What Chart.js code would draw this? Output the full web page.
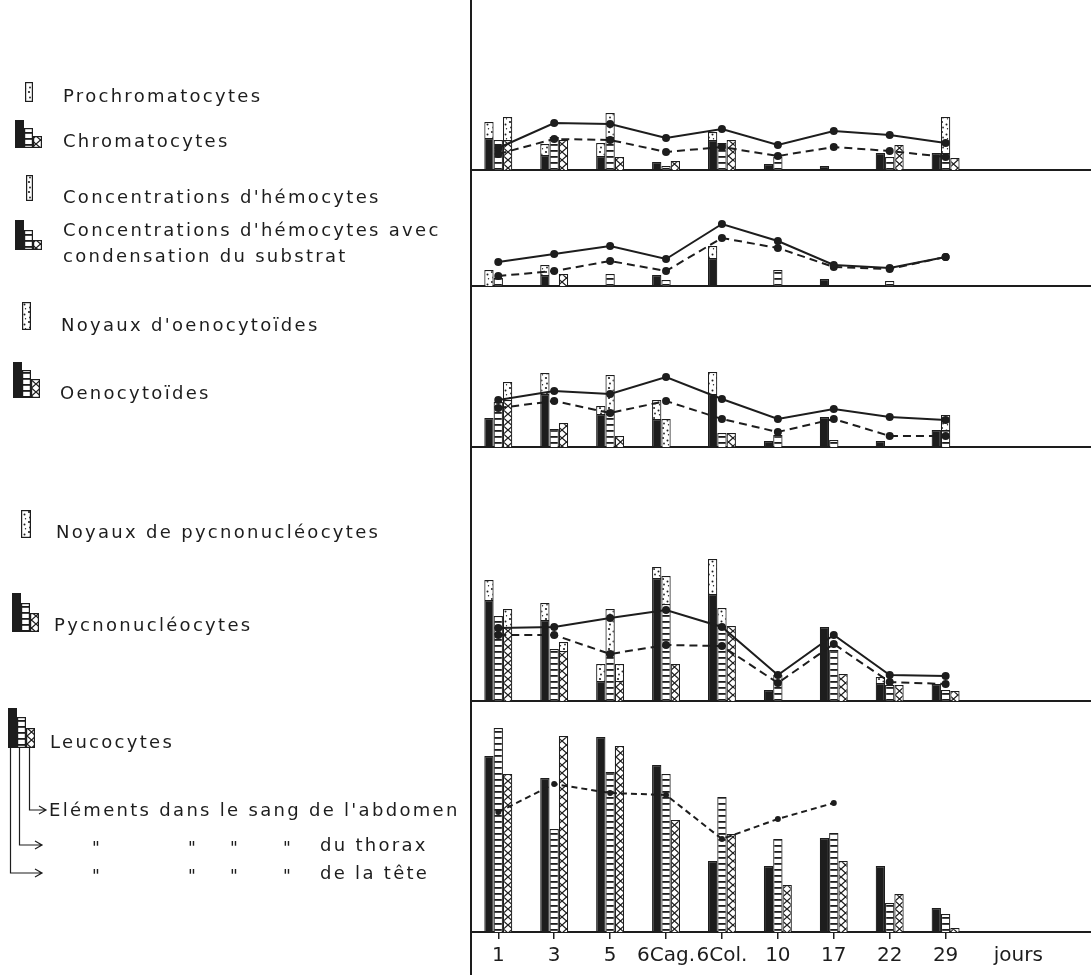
<!DOCTYPE html>
<html lang="fr">
<head>
<meta charset="utf-8">
<title>Hémocytes — évolution au cours du temps</title>
<script src="https://cdn.jsdelivr.net/npm/chart.js@4.4.1/dist/chart.umd.min.js"></script>
<style>
  html, body { margin: 0; padding: 0; background: #fff; }
  body { position: relative; width: 1091px; height: 975px; overflow: hidden;
         font-family: "DejaVu Sans", sans-serif; color: #1d1d1d; }
  #legendArt { position: absolute; left: 0; top: 0; }
  #yRule { position: absolute; left: 470px; top: 0; width: 2px; height: 975px; background: #1d1d1d; }
  .panel { position: absolute; left: 472px; width: 619px; }
  .lg { position: absolute; font-size: 18px; line-height: 20px; letter-spacing: 2.3px;
        white-space: nowrap; }
  .ditto { position: absolute; font-size: 17px; line-height: 20px; }
</style>
</head>
<body>
<canvas id="legendArt" width="460" height="975"></canvas>
<div id="yRule"></div>

<div class="lg" style="left:63px;top:86px">Prochromatocytes</div>
<div class="lg" style="left:63px;top:131px">Chromatocytes</div>
<div class="lg" style="left:63px;top:187px">Concentrations d'hémocytes</div>
<div class="lg" style="left:63px;top:220px">Concentrations d'hémocytes avec</div>
<div class="lg" style="left:63px;top:246px">condensation du substrat</div>
<div class="lg" style="left:61px;top:315px">Noyaux d'oenocytoïdes</div>
<div class="lg" style="left:60px;top:383px">Oenocytoïdes</div>
<div class="lg" style="left:56px;top:522px">Noyaux de pycnonucléocytes</div>
<div class="lg" style="left:54px;top:615px">Pycnonucléocytes</div>
<div class="lg" style="left:50px;top:732px">Leucocytes</div>
<div class="lg" style="left:49px;top:800px">Eléments dans le sang de l'abdomen</div>
<div class="ditto" style="left:92px;top:838px">"</div>
<div class="ditto" style="left:188px;top:838px">"</div>
<div class="ditto" style="left:230px;top:838px">"</div>
<div class="ditto" style="left:283px;top:838px">"</div>
<div class="lg" style="left:320px;top:835px">du thorax</div>
<div class="ditto" style="left:92px;top:866px">"</div>
<div class="ditto" style="left:188px;top:866px">"</div>
<div class="ditto" style="left:230px;top:866px">"</div>
<div class="ditto" style="left:283px;top:866px">"</div>
<div class="lg" style="left:320px;top:863px">de la tête</div>

<script>
const INK = '#1d1d1d';

// ---------- sampling days ----------
const dayLabels = ['1', '3', '5', '6Cag.', '6Col.', '10', '17', '22', '29'];
const unitLabel = 'jours';

// ---------- chromatocytes / prochromatocytes ----------
const chromTete         = [32, 15, 14, 8, 30, 6, 4, 17, 17];
const prochromTete      = [16, 11, 13, null, 8, null, null, null, null];
const chromThorax       = [30, 33, 33, 4, 27, 13, null, 13, 17];
const prochromThorax    = [null, null, 24, null, null, null, null, null, 36];
const chromAbdomen      = [30, 30, 13, 9, 30, null, null, 25, 12];
const prochromAbdomen   = [23, null, null, null, null, null, null, null, null];
const chromSolid        = [22, 47, 46, 32, 41, 25, 39, 35, 27];
const chromDashed       = [16, 31, 30, 18, 23, 14, 23, 19, 13];

// ---------- concentrations d'hémocytes ----------
const condTete          = [null, 11, null, 11, 28, null, 7, null, null];
const concTete          = [16, 10, null, null, 12, null, null, null, null];
const condThorax        = [8, null, 12, 6, null, 16, null, 5, null];
const condAbdomen       = [null, 12, null, null, null, null, null, null, null];
const concSolid         = [24, 32, 40, 27, 62, 45, 21, 18, 29];
const concDashed        = [10, 15, 25, 15, 48, 38, 19, 17, 29];

// ---------- oenocytoïdes / noyaux d'oenocytoïdes ----------
const oenoTete          = [29, 53, 33, 28, 53, 6, 30, 6, 17];
const noyOenoTete       = [null, 21, 8, 19, 22, null, null, null, null];
const oenoThorax        = [45, 18, 33, null, 14, 12, 7, null, 17];
const noyOenoThorax     = [null, null, 39, 28, null, null, null, null, 15];
const oenoAbdomen       = [47, 24, 11, null, 14, null, null, null, null];
const noyOenoAbdomen    = [18, null, null, null, null, null, null, null, null];
const oenoSolid         = [47, 56, 53, 70, 48, 28, 38, 30, 27];
const oenoDashed        = [39, 46, 34, 46, 28, 15, 28, 11, 11];

// ---------- pycnonucléocytes / noyaux de pycnonucléocytes ----------
const pycTete           = [101, 81, 20, 123, 107, 11, 74, 18, 17];
const noyPycTete        = [20, 17, 17, 11, 35, null, null, 6, null];
const pycThorax         = [85, 52, 47, 97, 75, 26, 51, 16, 11];
const noyPycThorax      = [null, null, 45, 28, 18, null, null, null, null];
const pycAbdomen        = [74, 50, 20, 37, 75, null, 27, 16, 10];
const noyPycAbdomen     = [18, 9, 17, null, null, null, null, null, null];
const pycSolid          = [73, 74, 83, 91, 74, 26, 66, 26, 25];
const pycDashed         = [66, 66, 47, 56, 55, 18, 57, 19, 17];

// ---------- leucocytes ----------
const leucoTete         = [176, 154, 195, 167, 71, 66, 94, 66, 24];
const leucoThorax       = [204, 103, 160, 158, 135, 93, 99, 29, 18];
const leucoAbdomen      = [158, 196, 186, 112, 98, 47, 71, 38, 4];
const leucoDashed       = [120, 148, 139, 137, 93, 113, 129, null, null];

// ---------- hatch fills ----------
const art = document.getElementById('legendArt').getContext('2d');

function makeTile(w, h, paint) {
  const c = document.createElement('canvas');
  c.width = w; c.height = h;
  const g = c.getContext('2d');
  g.fillStyle = '#fff'; g.fillRect(0, 0, w, h);
  g.fillStyle = INK; g.strokeStyle = INK;
  paint(g, w, h);
  return c;
}

const fills = {
  black: INK,
  stripes: art.createPattern(makeTile(10, 6, (g, w) => g.fillRect(0, 0, w, 1.8)), 'repeat'),
  chain: art.createPattern(makeTile(9, 8, (g, w, h) => {
    g.lineWidth = 1.3;
    g.beginPath();
    g.moveTo(0, 0); g.lineTo(w, h);
    g.moveTo(w, 0); g.lineTo(0, h);
    g.stroke();
  }), 'repeat'),
  stipple: art.createPattern(makeTile(9, 10, g => {
    [[2, 2, 1.1], [6.5, 4.5, 1], [3, 7.5, 0.9], [7.5, 8.8, 0.7]].forEach(([x, y, r]) => {
      g.beginPath(); g.arc(x, y, r, 0, Math.PI * 2); g.fill();
    });
  }), 'repeat')
};

// ---------- legend symbols ----------
function symbolBar(fill, x, yBottom, w, h) {
  art.fillStyle = fills[fill];
  art.fillRect(x, yBottom - h, w, h);
  art.strokeStyle = INK; art.lineWidth = 1.2;
  art.strokeRect(x + 0.6, yBottom - h + 0.6, w - 1.2, h - 1.2);
}
function symbolTrio(x, yBottom, hs) {
  symbolBar('black', x, yBottom, 9, hs[0]);
  symbolBar('stripes', x + 9, yBottom, 9, hs[1]);
  symbolBar('chain', x + 18, yBottom, 9, hs[2]);
}
symbolBar('stipple', 25, 102, 8, 20);
symbolTrio(15, 148, [28, 20, 12]);
symbolBar('stipple', 26, 201, 7, 26);
symbolTrio(15, 250, [30, 20, 10]);
symbolBar('stipple', 22, 330, 9, 28);
symbolTrio(13, 398, [36, 28, 19]);
symbolBar('stipple', 21, 538, 10, 28);
symbolTrio(12, 632, [39, 29, 19]);
symbolTrio(8, 748, [40, 31, 20]);

function leader(x, y0, y1, xEnd) {
  art.strokeStyle = INK; art.lineWidth = 1.2;
  art.beginPath();
  art.moveTo(x, y0); art.lineTo(x, y1); art.lineTo(xEnd, y1);
  art.moveTo(xEnd - 7, y1 - 4); art.lineTo(xEnd, y1); art.lineTo(xEnd - 7, y1 + 4);
  art.stroke();
}
leader(29.5, 748, 810, 46);
leader(19.5, 748, 845, 42);
leader(10.5, 748, 873, 42);

// ---------- panels ----------
Chart.defaults.font.family = '"DejaVu Sans", sans-serif';
Chart.defaults.color = INK;

const panels = [
  { top: 0,   range: 170, bars: [[chromTete, prochromTete], [chromThorax, prochromThorax], [chromAbdomen, prochromAbdomen]],
    solid: chromSolid, dashed: chromDashed },
  { top: 170, range: 116, bars: [[condTete, concTete], [condThorax, null], [condAbdomen, null]],
    solid: concSolid, dashed: concDashed },
  { top: 286, range: 161, bars: [[oenoTete, noyOenoTete], [oenoThorax, noyOenoThorax], [oenoAbdomen, noyOenoAbdomen]],
    solid: oenoSolid, dashed: oenoDashed },
  { top: 447, range: 254, bars: [[pycTete, noyPycTete], [pycThorax, noyPycThorax], [pycAbdomen, noyPycAbdomen]],
    solid: pycSolid, dashed: pycDashed },
  { top: 701, range: 231, bars: [[leucoTete, null], [leucoThorax, null], [leucoAbdomen, null]],
    dashed: leucoDashed, axis: true, dotRadius: 3, dash: [6, 4] }
];

const slotFill = ['black', 'stripes', 'chain'];
const slotStack = ['tete', 'thorax', 'abdomen'];
const tickValues = dayLabels.map((_, i) => i).concat(9.3);
const tickText = dayLabels.concat(unitLabel);
const points = arr => arr.map((v, i) => ({ x: i, y: v }));

function lineSet(arr, dash, r) {
  return {
    type: 'line', data: points(arr), order: 0,
    borderColor: INK, borderWidth: 2, borderDash: dash, tension: 0, fill: false,
    pointRadius: r, pointHoverRadius: r, pointBackgroundColor: INK, pointBorderWidth: 0
  };
}

panels.forEach(p => {
  const axisH = p.axis ? 43 : 3;
  const box = document.createElement('div');
  box.className = 'panel';
  box.style.top = p.top + 'px';
  box.style.height = (p.range + axisH) + 'px';
  const cv = document.createElement('canvas');
  box.appendChild(cv);
  document.body.appendChild(box);

  const datasets = [];
  p.bars.forEach((pair, k) => {
    pair.forEach((arr, j) => {
      if (!arr) return;
      datasets.push({
        type: 'bar', data: points(arr), stack: slotStack[k], order: 1,
        backgroundColor: fills[j === 0 ? slotFill[k] : 'stipple'],
        borderColor: INK, borderWidth: 1.2,
        categoryPercentage: 0.5, barPercentage: 1
      });
    });
  });
  const r = p.dotRadius || 4;
  if (p.solid) datasets.push(lineSet(p.solid, [], r));
  if (p.dashed) datasets.push(lineSet(p.dashed, p.dash || [8, 5], r));

  new Chart(cv, {
    type: 'bar',
    data: { datasets },
    options: {
      responsive: true, maintainAspectRatio: false, animation: false, devicePixelRatio: 1,
      events: [],
      layout: { padding: 0, autoPadding: false },
      plugins: { legend: { display: false }, tooltip: { enabled: false } },
      scales: {
        x: {
          type: 'linear', min: -0.47, max: 10.6, offset: false,
          afterBuildTicks: s => { s.ticks = tickValues.map(value => ({ value })); },
          afterFit: s => { s.height = axisH; },
          border: { display: true, color: INK, width: 2 },
          grid: {
            display: true, drawOnChartArea: false, drawTicks: !!p.axis, tickLength: 7,
            offset: false, lineWidth: 1.5,
            color: ctx => (ctx.tick && ctx.tick.value < dayLabels.length) ? INK : 'rgba(0,0,0,0)'
          },
          ticks: {
            display: !!p.axis, autoSkip: false, maxRotation: 0, padding: 5, color: INK,
            font: { size: 20 },
            callback: (v, i) => tickText[i]
          }
        },
        y: { display: false, min: 0, max: p.range }
      }
    }
  });
});
</script>
</body>
</html>
